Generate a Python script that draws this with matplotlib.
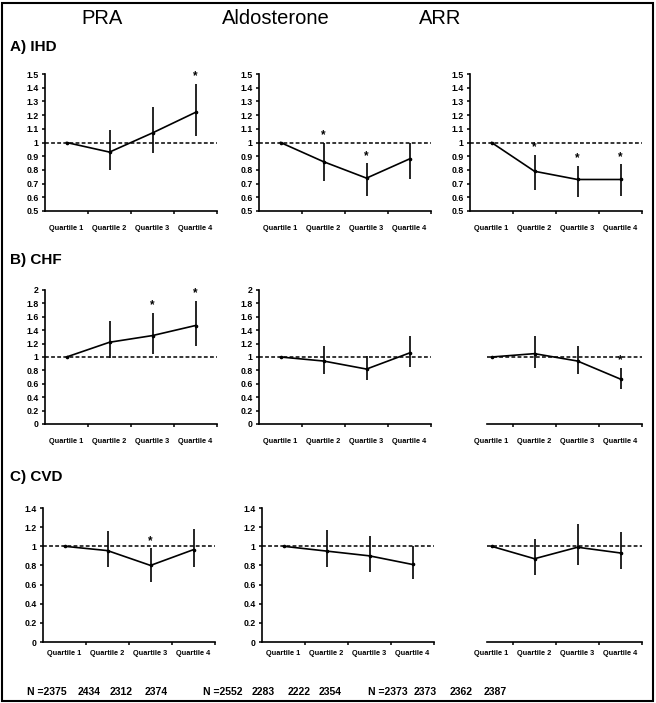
import matplotlib
matplotlib.use("Agg")
import matplotlib.pyplot as plt
import numpy as np
from matplotlib.patches import Rectangle
from matplotlib import font_manager

plt.rcParams['font.family'] = ['Liberation Sans', 'DejaVu Sans']
_names = {f.name for f in font_manager.fontManager.ttflist}
narrow = ['Liberation Sans Narrow', 'Liberation Sans'] if 'Liberation Sans Narrow' in _names else ['Liberation Sans']

quartiles = ["Quartile 1", "Quartile 2", "Quartile 3", "Quartile 4"]
col_titles = ["PRA", "Aldosterone", "ARR"]
row_titles = ["A) IHD", "B) CHF", "C) CVD"]

# A) IHD
ihd_pra = [1.0, 0.93, 1.07, 1.22]
ihd_pra_lo = [1.0, 0.80, 0.92, 1.05]
ihd_pra_hi = [1.0, 1.09, 1.26, 1.43]
ihd_pra_sig = [False, False, False, True]

ihd_aldo = [1.0, 0.86, 0.74, 0.88]
ihd_aldo_lo = [1.0, 0.72, 0.61, 0.73]
ihd_aldo_hi = [1.0, 1.00, 0.85, 1.00]
ihd_aldo_sig = [False, True, True, False]

ihd_arr = [1.0, 0.79, 0.73, 0.73]
ihd_arr_lo = [1.0, 0.65, 0.60, 0.61]
ihd_arr_hi = [1.0, 0.91, 0.83, 0.84]
ihd_arr_sig = [False, True, True, True]

# B) CHF
chf_pra = [1.0, 1.22, 1.32, 1.47]
chf_pra_lo = [1.0, 0.98, 1.04, 1.17]
chf_pra_hi = [1.0, 1.53, 1.66, 1.84]
chf_pra_sig = [False, False, True, True]

chf_aldo = [1.0, 0.94, 0.82, 1.06]
chf_aldo_lo = [1.0, 0.74, 0.65, 0.85]
chf_aldo_hi = [1.0, 1.16, 1.02, 1.32]
chf_aldo_sig = [False, False, False, False]

chf_arr = [1.0, 1.05, 0.94, 0.67]
chf_arr_lo = [1.0, 0.84, 0.74, 0.52]
chf_arr_hi = [1.0, 1.31, 1.17, 0.84]
chf_arr_sig = [False, False, False, True]

# C) CVD
cvd_pra = [1.0, 0.955, 0.80, 0.965]
cvd_pra_lo = [1.0, 0.78, 0.63, 0.78]
cvd_pra_hi = [1.0, 1.16, 0.98, 1.18]
cvd_pra_sig = [False, False, True, False]

cvd_aldo = [1.0, 0.95, 0.90, 0.81]
cvd_aldo_lo = [1.0, 0.78, 0.73, 0.66]
cvd_aldo_hi = [1.0, 1.17, 1.11, 1.00]
cvd_aldo_sig = [False, False, False, False]

cvd_arr = [1.0, 0.87, 0.99, 0.93]
cvd_arr_lo = [1.0, 0.70, 0.80, 0.76]
cvd_arr_hi = [1.0, 1.08, 1.23, 1.15]
cvd_arr_sig = [False, False, False, False]

n_pra = [2375, 2434, 2312, 2374]
n_aldo = [2552, 2283, 2222, 2354]
n_arr = [2373, 2373, 2362, 2387]

rows = [
    [(ihd_pra, ihd_pra_lo, ihd_pra_hi, ihd_pra_sig),
     (ihd_aldo, ihd_aldo_lo, ihd_aldo_hi, ihd_aldo_sig),
     (ihd_arr, ihd_arr_lo, ihd_arr_hi, ihd_arr_sig)],
    [(chf_pra, chf_pra_lo, chf_pra_hi, chf_pra_sig),
     (chf_aldo, chf_aldo_lo, chf_aldo_hi, chf_aldo_sig),
     (chf_arr, chf_arr_lo, chf_arr_hi, chf_arr_sig)],
    [(cvd_pra, cvd_pra_lo, cvd_pra_hi, cvd_pra_sig),
     (cvd_aldo, cvd_aldo_lo, cvd_aldo_hi, cvd_aldo_sig),
     (cvd_arr, cvd_arr_lo, cvd_arr_hi, cvd_arr_sig)],
]

W, H = 656, 703
fig = plt.figure(figsize=(W / 100, H / 100), dpi=100)

# layout in pixels
row_px = [(74, 211), (290, 424), (508, 642)]
col_left = [[45, 259, 470], [45, 259, 470], [43, 262, 470]]
ax_w = 172
ylims = [(0.5, 1.5, 0.1), (0, 2, 0.2), (0, 1.4, 0.2)]
label_pads = [10, 10, 6]


def fmt(v):
    return ("%.1f" % v).rstrip("0").rstrip(".")


x = np.arange(1, 5)
for r in range(3):
    top, bot = row_px[r]
    lo_lim, hi_lim, step = ylims[r]
    for c in range(3):
        left = col_left[r][c]
        ax = fig.add_axes([left / W, 1 - bot / H, ax_w / W, (bot - top) / H])
        vals, lo, hi, sig = rows[r][c]
        vals = np.array(vals); lo = np.array(lo); hi = np.array(hi)
        no_y = (c == 2 and r > 0)
        # reference line
        if no_y:
            ax.hlines(1.0, 0.9, 4.5, colors="black", linestyles=(0, (2.5, 1.5)), lw=1.1)
        else:
            ax.axhline(1.0, color="black", ls=(0, (2.5, 1.5)), lw=1.1)
        ax.errorbar(x, vals, yerr=[vals - lo, hi - vals], fmt="-", color="black",
                    lw=1.2, elinewidth=1.2, capsize=0, marker="o", ms=1.6)
        for xi, h, s in zip(x, hi, sig):
            if s:
                ax.annotate("*", (xi, h), xytext=(0, 1), textcoords="offset points",
                            ha="center", va="bottom", fontsize=8.5, fontweight="bold")
        ax.set_xlim(0.5, 4.5)
        ax.set_ylim(lo_lim, hi_lim)
        ax.set_xticks(x)
        ax.set_xticklabels(quartiles, fontsize=5.3, fontweight="bold")
        ax.set_xticks([1.5, 2.5, 3.5, 4.5], minor=True)
        ax.tick_params(axis="x", which="major", length=0, pad=label_pads[r])
        ax.tick_params(axis="x", which="minor", length=2.5, width=1.1, direction="out")
        for sp in ["top", "right"]:
            ax.spines[sp].set_visible(False)
        ax.spines["bottom"].set_linewidth(1.2)
        ax.spines["left"].set_linewidth(1.2)
        if no_y:
            ax.spines["left"].set_visible(False)
            ax.spines["bottom"].set_bounds(0.9, 4.5)
            ax.set_yticks([])
        else:
            yt = np.round(np.arange(lo_lim, hi_lim + step / 2, step), 2)
            ax.set_yticks(yt)
            ax.set_yticklabels([fmt(v) for v in yt], fontsize=6.3, fontweight="bold")
            ax.tick_params(axis="y", length=2.5, width=1.1, pad=2)
        ax.patch.set_alpha(0)

# column titles
for t, xp in zip(col_titles, [102, 276, 440]):
    fig.text(xp / W, 1 - 18 / H, t, ha="center", va="center", fontsize=14.5)

# row titles
for t, yp in zip(row_titles, [47, 260, 477]):
    fig.text(10 / W, 1 - yp / H, t, ha="left", va="center", fontsize=11, fontweight="bold")

# N labels
n_pos = [[47, 89, 121, 156], [223, 263, 299, 330], [388, 425, 461, 495]]
for ns, xs in zip([n_pra, n_aldo, n_arr], n_pos):
    for i, (n, xp) in enumerate(zip(ns, xs)):
        s = ("N =%d" % n) if i == 0 else str(n)
        fig.text(xp / W, 1 - 692 / H, s, ha="center", va="center", fontsize=9 if len(narrow) > 1 else 7.5,
                 fontweight="bold", family=narrow)

# outer border
fig.patches.append(Rectangle((2 / W, 2 / H), (W - 5) / W, (H - 5) / H,
                             transform=fig.transFigure, fill=False,
                             edgecolor="black", lw=1.5))

fig.savefig("out.png", dpi=100)
